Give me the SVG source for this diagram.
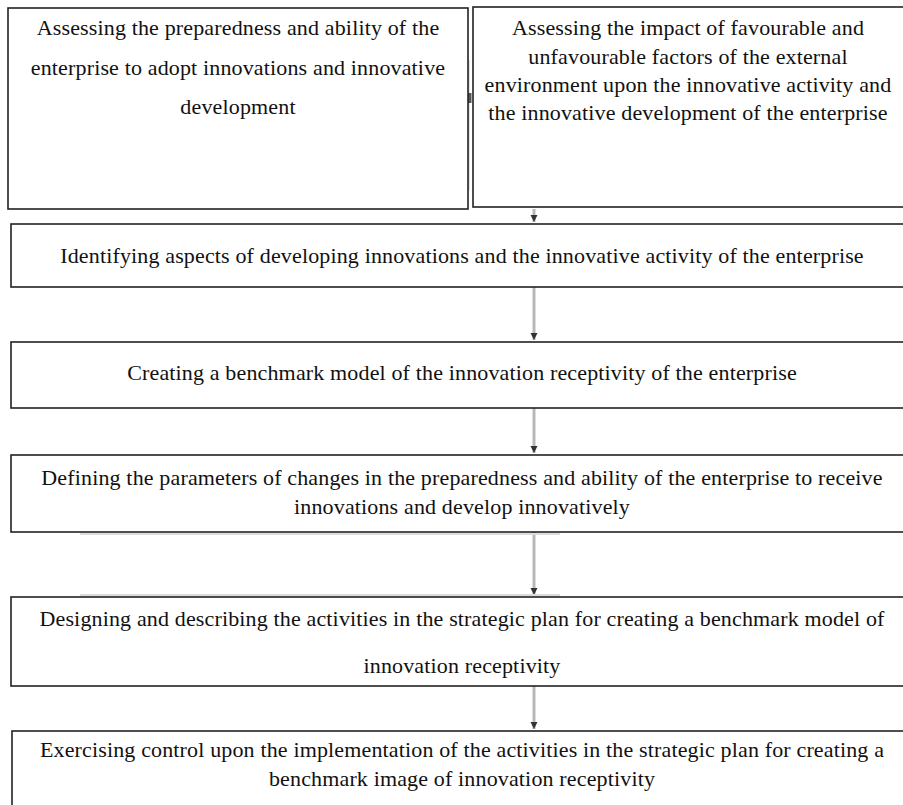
<svg xmlns="http://www.w3.org/2000/svg" width="903" height="805" viewBox="0 0 903 805">
<defs>
<marker id="ah" viewBox="0 0 10 10" refX="10" refY="5" markerWidth="2.4" markerHeight="2.4" orient="auto" markerUnits="strokeWidth">
<path d="M0,0 L10,5 L0,10 Z" fill="#333"/>
</marker>
<style>
.box{fill:#fff;stroke:#222;stroke-width:1.6}
.t{font-family:"Liberation Serif","Times New Roman",serif;font-size:22px;letter-spacing:0.15px;fill:#111;text-anchor:middle}
.c{stroke:#b8b8b8;stroke-width:3;fill:none}
.sh{stroke:#dcdcdc;stroke-width:2}
</style>
</defs>
<rect width="903" height="805" fill="#fff"/>
<g id="connectors">
<line class="c" x1="534" y1="209" x2="534" y2="222" marker-end="url(#ah)"/>
<line class="c" x1="534" y1="287" x2="534" y2="340" marker-end="url(#ah)"/>
<line class="c" x1="534" y1="408" x2="534" y2="453" marker-end="url(#ah)"/>
<line class="c" x1="534" y1="532" x2="534" y2="595" marker-end="url(#ah)"/>
<line class="c" x1="534" y1="686" x2="534" y2="729" marker-end="url(#ah)"/>
<line stroke="#e4e4e4" stroke-width="2" x1="469" y1="60" x2="469" y2="190"/>
<rect x="467.5" y="93" width="4" height="10" fill="#555"/>
<line class="sh" x1="80" y1="534" x2="560" y2="534"/>
<line class="sh" x1="80" y1="595" x2="560" y2="595"/>
</g>
<g id="n1">
<rect class="box" x="8" y="8" width="460" height="201"/>
<text class="t" x="238" y="35">Assessing the preparedness and ability of the</text>
<text class="t" x="238" y="75">enterprise to adopt innovations and innovative</text>
<text class="t" x="238" y="114">development</text>
</g>
<g id="n2">
<rect class="box" x="473" y="7" width="440" height="200"/>
<text class="t" x="688" y="35">Assessing the impact of favourable and</text>
<text class="t" x="688" y="64">unfavourable factors of the external</text>
<text class="t" x="688" y="92">environment upon the innovative activity and</text>
<text class="t" x="688" y="120">the innovative development of the enterprise</text>
</g>
<g id="n3">
<rect class="box" x="11" y="224" width="902" height="63"/>
<text class="t" x="462" y="263">Identifying aspects of developing innovations and the innovative activity of the enterprise</text>
</g>
<g id="n4">
<rect class="box" x="11" y="342" width="902" height="66"/>
<text class="t" x="462" y="380">Creating a benchmark model of the innovation receptivity of the enterprise</text>
</g>
<g id="n5">
<rect class="box" x="11" y="455" width="902" height="77"/>
<text class="t" x="462" y="485">Defining the parameters of changes in the preparedness and ability of the enterprise to receive</text>
<text class="t" x="462" y="514">innovations and develop innovatively</text>
</g>
<g id="n6">
<rect class="box" x="11" y="597" width="902" height="89"/>
<text class="t" x="462" y="626">Designing and describing the activities in the strategic plan for creating a benchmark model of</text>
<text class="t" x="462" y="673">innovation receptivity</text>
</g>
<g id="n7">
<rect class="box" x="12" y="731" width="901" height="80"/>
<text class="t" x="462" y="757">Exercising control upon the implementation of the activities in the strategic plan for creating a</text>
<text class="t" x="462" y="786">benchmark image of innovation receptivity</text>
</g>
</svg>
